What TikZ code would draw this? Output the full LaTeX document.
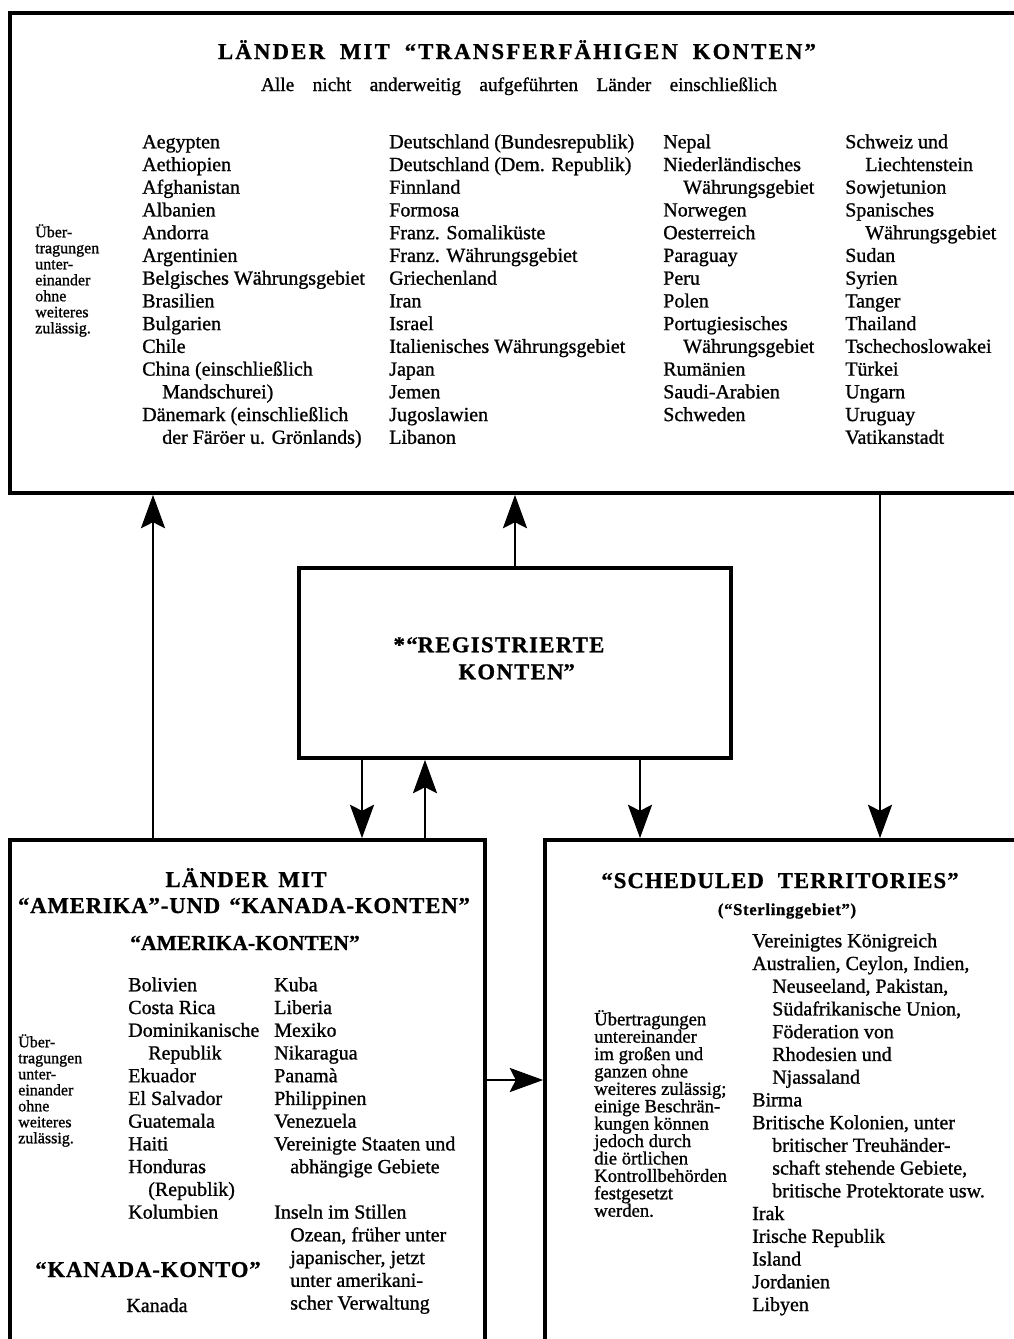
\documentclass[tikz,border=0pt]{standalone}
\usepackage{fontspec}
\setmainfont{Liberation Serif}[FakeBold=1]
\usetikzlibrary{arrows.meta,fit}
\newcommand{\Ttl}[3]{\makebox[#1][s]{\addfontfeature{LetterSpace=#2}#3}}
\newcommand{\Lsp}[2]{{\addfontfeature{LetterSpace=#1}#2}}
\newcommand{\ind}{\hspace*{15pt}}
\newcommand{\indb}{\hspace*{12pt}}
\begin{document}
\begin{tikzpicture}[x=0.75pt,y=-0.75pt,
  box/.style={draw,line width=2.8pt,inner sep=0pt},
  arr/.style={line width=2pt,-{Stealth[length=25pt,width=18pt,inset=4.5pt]}},
  lst/.style={anchor=north west,inner sep=0pt,align=left,font=\fontsize{15}{17.05}\selectfont},
  smallnote/.style={anchor=north west,inner sep=0pt,align=left,font=\fontsize{12}{12}\selectfont},
  bignote/.style={anchor=north west,inner sep=0pt,align=left,font=\fontsize{14}{13.05}\selectfont},
  ttl/.style={inner sep=0pt,anchor=base,font=\bfseries\fontsize{17}{20}\selectfont},
  plain/.style={inner sep=0pt,anchor=base,font=\fontsize{15}{18}\selectfont}]
\fill[white] (0,0) rectangle (1014,1339);
\useasboundingbox (0,0) rectangle (1014,1339);

% boxes
\node[box,fit={(10,13) (1100,493)}] (top) {};
\node[box,fit={(299,568) (731,758)}] (reg) {};
\node[box,fit={(10,840) (485,1400)}] (amer) {};
\node[box,fit={(545,840) (1100,1400)}] (ster) {};

% connector guides
\coordinate (x1) at (153,0);
\coordinate (x2) at (515,0);
\coordinate (x3) at (880,0);
\coordinate (x4) at (362,0);
\coordinate (x5) at (425,0);
\coordinate (x6) at (640,0);
\coordinate (y7) at (0,1080);

\draw[arr] (amer.north -| x1) -- (top.south -| x1);
\draw[arr] (reg.north -| x2) -- (top.south -| x2);
\draw[arr] (top.south -| x3) -- (ster.north -| x3);
\draw[arr] (reg.south -| x4) -- (amer.north -| x4);
\draw[arr] (amer.north -| x5) -- (reg.south -| x5);
\draw[arr] (reg.south -| x6) -- (ster.north -| x6);
\draw[arr] (amer.east |- y7) -- (ster.west |- y7);

% top box text
\node[ttl] (ttop) at (517,59) {\Ttl{448.5pt}{10}{LÄNDER MIT “TRANSFERFÄHIGEN KONTEN”}};
\node[plain,font=\fontsize{14.5}{17}\selectfont] (tsub) at (519,91) {\makebox[387pt][s]{Alle nicht anderweitig aufgeführten Länder einschließlich}};
\node[smallnote] (tnote) at (35,237) {\smash{Über-}\\tragungen\\unter-\\einander\\ohne\\weiteres\\zulässig.};
\node[lst] (tc1) at (142,148) {\smash{Aegypten}\\Aethiopien\\Afghanistan\\Albanien\\Andorra\\Argentinien\\Belgisches Währungsgebiet\\Brasilien\\Bulgarien\\Chile\\China (einschließlich\\\ind Mandschurei)\\Dänemark (einschließlich\\\ind der Färöer u. Grönlands)};
\node[lst] (tc2) at (389,148) {\smash{Deutschland (Bundesrepublik)}\\Deutschland (Dem. Republik)\\Finnland\\Formosa\\Franz. Somaliküste\\Franz. Währungsgebiet\\Griechenland\\Iran\\Israel\\Italienisches Währungsgebiet\\Japan\\Jemen\\Jugoslawien\\Libanon};
\node[lst] (tc3) at (663,148) {\smash{Nepal}\\Niederländisches\\\ind Währungsgebiet\\Norwegen\\Oesterreich\\Paraguay\\Peru\\Polen\\Portugiesisches\\\ind Währungsgebiet\\Rumänien\\Saudi-Arabien\\Schweden};
\node[lst] (tc4) at (845,148) {\smash{Schweiz und}\\\ind Liechtenstein\\Sowjetunion\\Spanisches\\\ind Währungsgebiet\\Sudan\\Syrien\\Tanger\\Thailand\\Tschechoslowakei\\Türkei\\Ungarn\\Uruguay\\Vatikanstadt};

% middle box text
\node[inner sep=0pt,anchor=north,align=center,font=\bfseries\fontsize{17}{20.25}\selectfont\addfontfeature{LetterSpace=6}] (regt) at (511,652) {\smash{\llap{*“}REGISTRIERTE}\\KONTEN\rlap{”}};

% bottom-left box text
\node[ttl] (a1) at (246,887) {\Ttl{120.75pt}{6}{LÄNDER MIT}};
\node[ttl] (a2) at (244,913) {\Ttl{339pt}{4}{“AMERIKA”-UND “KANADA-KONTEN”}};
\node[ttl,font=\bfseries\fontsize{16}{20}\selectfont] (a3) at (245,950) {\Lsp{1}{“AMERIKA-KONTEN”}};
\node[smallnote] (anote) at (18,1047) {\smash{Über-}\\tragungen\\unter-\\einander\\ohne\\weiteres\\zulässig.};
\node[lst] (ac1) at (128,991) {\smash{Bolivien}\\Costa Rica\\Dominikanische\\\ind Republik\\Ekuador\\El Salvador\\Guatemala\\Haiti\\Honduras\\\ind (Republik)\\Kolumbien};
\node[lst] (ac2) at (274,991) {\smash{Kuba}\\Liberia\\Mexiko\\Nikaragua\\Panamà\\Philippinen\\Venezuela\\Vereinigte Staaten und\\\indb abhängige Gebiete\\\mbox{}\\Inseln im Stillen\\\indb Ozean, früher unter\\\indb japanischer, jetzt\\\indb unter amerikani-\\\indb scher Verwaltung};
\node[ttl] (a4) at (148,1277) {\Lsp{4}{“KANADA-KONTO”}};
\node[plain] (a5) at (157,1312) {Kanada};

% bottom-right box text
\node[ttl] (s1) at (780,888) {\Ttl{268pt}{5}{“SCHEDULED TERRITORIES”}};
\node[ttl,font=\bfseries\fontsize{12.5}{15}\selectfont] (s2) at (787,915) {\Lsp{4}{(“Sterlinggebiet”)}};
\node[bignote] (snote) at (594,1025) {\smash{Übertragungen}\\untereinander\\im großen und\\ganzen ohne\\weiteres zulässig;\\einige Beschrän-\\kungen können\\jedoch durch\\die örtlichen\\Kontrollbehörden\\festgesetzt\\werden.};
\node[lst] (sc) at (752,947) {\smash{Vereinigtes Königreich}\\Australien, Ceylon, Indien,\\\ind Neuseeland, Pakistan,\\\ind Südafrikanische Union,\\\ind Föderation von\\\ind Rhodesien und\\\ind Njassaland\\Birma\\Britische Kolonien, unter\\\ind britischer Treuhänder-\\\ind schaft stehende Gebiete,\\\ind britische Protektorate usw.\\Irak\\Irische Republik\\Island\\Jordanien\\Libyen};
\end{tikzpicture}
\end{document}
